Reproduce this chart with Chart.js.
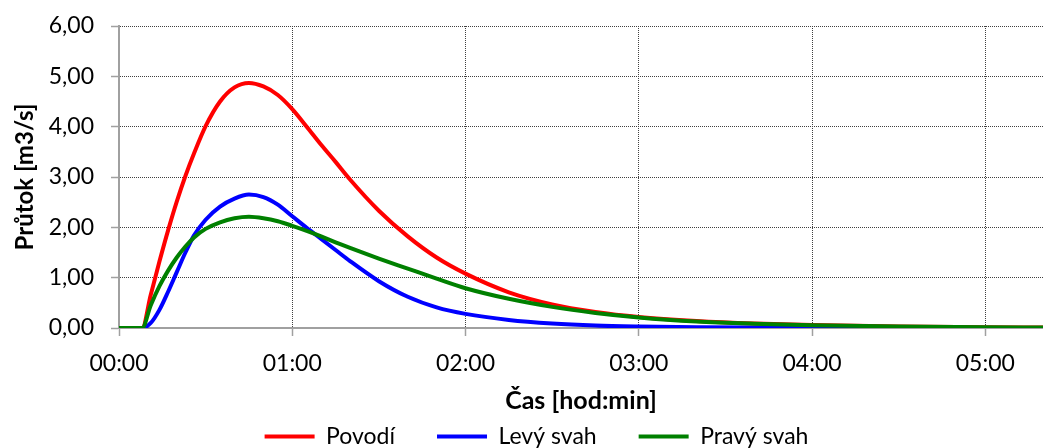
<!DOCTYPE html>
<html>
<head>
<meta charset="utf-8">
<script src="https://cdn.jsdelivr.net/npm/chart.js@4"></script>
<style>
html,body{margin:0;padding:0;background:#fff;}
#wrap{width:1043px;height:448px;position:relative;}
</style>
</head>
<body>
<div id="wrap"><canvas id="c"></canvas></div>
<script>
// time in minutes
const times = [0,4,8,11,14,17,20,23,26,30,35,40,45,50,55,60,65,70,75,80,90,100,110,120,135,150,165,180,200,220,240,270,300,320];
const povodi = [0,0,0,0.66,1.32,1.94,2.51,3.02,3.47,4.01,4.5,4.78,4.87,4.8,4.63,4.35,4.0,3.64,3.3,2.95,2.33,1.82,1.4,1.08,0.71,0.47,0.32,0.22,0.14,0.09,0.06,0.03,0.015,0.01];
const levySvah = [0,0,0,0.1,0.36,0.72,1.11,1.5,1.84,2.15,2.41,2.57,2.65,2.6,2.45,2.22,1.99,1.77,1.55,1.33,0.93,0.62,0.41,0.28,0.16,0.09,0.05,0.03,0.015,0.008,0.005,0.002,0.001,0];
const pravySvah = [0,0,0,0.45,0.83,1.14,1.4,1.62,1.8,1.97,2.1,2.18,2.21,2.18,2.12,2.03,1.93,1.82,1.7,1.59,1.38,1.18,0.98,0.79,0.58,0.42,0.3,0.21,0.13,0.085,0.055,0.03,0.015,0.01];
const seriesNames = ['Povodí','Levý svah','Pravý svah'];
const xTitle = 'Čas [hod:min]';
const yTitle = 'Průtok [m3/s]';

const toPts = arr => times.map((t,i)=>({x:t,y:arr[i]}));
const FONT = 'Lato';

const legendShift = {
  id:'legendShift',
  afterLayout(chart){
    const lg = chart.legend;
    if(!lg) return;
    lg.left += 15; lg.right += 15;
    lg.top = 383;
  }
};

new Chart(document.getElementById('c'), {
  type:'line',
  data:{
    datasets:[
      {label:seriesNames[0], data:toPts(povodi), borderColor:'#ff0000', backgroundColor:'#ff0000', order:2},
      {label:seriesNames[1], data:toPts(levySvah), borderColor:'#0000ff', backgroundColor:'#0000ff', order:1},
      {label:seriesNames[2], data:toPts(pravySvah), borderColor:'#008000', backgroundColor:'#008000', order:0}
    ]
  },
  options:{
    responsive:true, maintainAspectRatio:false, animation:false,
    layout:{padding:{left:0,right:0,top:26,bottom:0}},
    elements:{
      line:{borderWidth:4, cubicInterpolationMode:'monotone', fill:false, borderCapStyle:'round', borderJoinStyle:'round'},
      point:{radius:0, hoverRadius:0}
    },
    plugins:{
      tooltip:{enabled:false},
      legend:{
        position:'bottom', maxHeight:35,
        labels:{
          font:{family:FONT,size:23}, color:'#000',
          boxWidth:50, boxHeight:4, padding:42,
          sort:(a,b)=>a.datasetIndex-b.datasetIndex,
          generateLabels:(chart)=>Chart.defaults.plugins.legend.labels.generateLabels(chart).map(it=>({...it,lineWidth:0}))
        }
      }
    },
    scales:{
      x:{
        type:'linear', min:0, max:320,
        afterFit:(s)=>{s.height=85;},
        ticks:{stepSize:60, includeBounds:false, padding:14, maxRotation:0, autoSkip:false,
          font:{family:FONT,size:23}, color:'#000',
          callback:(v)=>{const h=Math.floor(v/60), m=v%60; return String(h).padStart(2,'0')+':'+String(m).padStart(2,'0');}},
        grid:{color:'#404040', lineWidth:1, tickLength:8, tickColor:'#a0a0a0', tickWidth:1.5},
        border:{color:'#a0a0a0', width:2, dash:[1,1]},
        title:{display:true, text:xTitle, font:{family:FONT,size:25,weight:'bold'}, color:'#000', padding:{top:0,bottom:-3}}
      },
      y:{
        min:0, max:6,
        afterFit:(s)=>{s.width=119;},
        ticks:{stepSize:1, padding:17, font:{family:FONT,size:23,lineHeight:0.7}, color:'#000',
          callback:(v)=>v.toFixed(2).replace('.',',')},
        grid:{color:'#404040', lineWidth:1, tickLength:8, tickColor:'#a0a0a0', tickWidth:1.5},
        border:{color:'#a0a0a0', width:2, dash:[1,1]},
        title:{display:true, text:yTitle, font:{family:FONT,size:24,weight:'bold'}, color:'#000', padding:{top:11,bottom:0}}
      }
    }
  },
  plugins:[legendShift]
});
</script>
</body>
</html>
